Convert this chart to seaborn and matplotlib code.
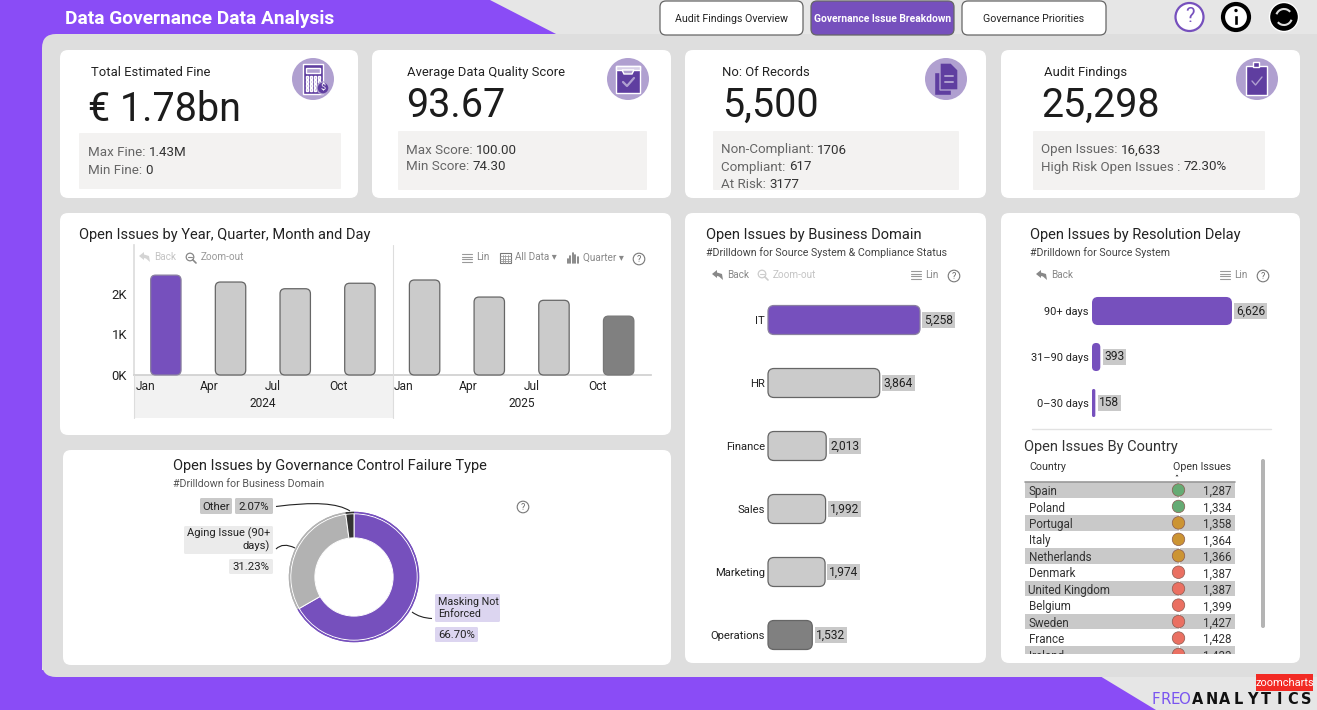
import numpy as np
import pandas as pd
import seaborn as sns
import matplotlib
matplotlib.use("Agg")
import matplotlib.pyplot as plt
from matplotlib.patches import FancyBboxPatch, Rectangle, Circle, Polygon, PathPatch, Arc
from matplotlib.path import Path
from matplotlib.transforms import ScaledTranslation

# ---- data -------------------------------------------------------------
periods = ["Q1 2024", "Q2 2024", "Q3 2024", "Q4 2024", "Q1 2025", "Q2 2025", "Q3 2025", "Q4 2025"]
quarter_labels = ["Jan", "Apr", "Jul", "Oct", "Jan", "Apr", "Jul", "Oct"]
period_issues = [2460, 2290, 2125, 2260, 2340, 1920, 1840, 1450]

domains = ["IT", "HR", "Finance", "Sales", "Marketing", "Operations"]
domain_issues = [5258, 3864, 2013, 1992, 1974, 1532]

delays = ["90+ days", "31–90 days", "0–30 days"]
delay_issues = [6626, 393, 158]

failure_types = ["Masking Not Enforced", "Aging Issue (90+ days)", "Other"]
failure_shares = [66.70, 31.23, 2.07]

countries = ["Spain", "Poland", "Portugal", "Italy", "Netherlands", "Denmark",
             "United Kingdom", "Belgium", "Sweden", "France", "Ireland"]
country_issues = [1287, 1334, 1358, 1364, 1366, 1387, 1387, 1399, 1427, 1428, 1433]
country_status = ["low", "low", "mid", "mid", "mid", "high", "high", "high", "high", "high", "high"]

# ---- styling ----------------------------------------------------------
W, H = 1317, 710
FONT = "Roboto"
BRIGHT = "#8a4cf6"
PURPLE = "#7650bd"
DEEP = "#5f3ea0"
LILAC = "#b0a0d0"
TAG = "#c9c9c9"

sns.set_theme(style="white")
plt.rcParams["font.family"] = [FONT, "DejaVu Sans"]
plt.rcParams["text.color"] = "#222222"

fig = plt.figure(figsize=(W / 100, H / 100), dpi=100, facecolor="#e6e6e6")


def px_axes(x0, y0, x1, y1, z=1):
    ax = fig.add_axes([x0 / W, 1 - y1 / H, (x1 - x0) / W, (y1 - y0) / H], zorder=z)
    ax.patch.set_alpha(0)
    return ax


def canvas(z):
    ax = px_axes(0, 0, W, H, z)
    ax.set_xlim(0, W)
    ax.set_ylim(H, 0)
    ax.axis("off")
    return ax


bg = canvas(0)
top = canvas(5)


def pt(px):
    return px * 0.72


def label(x, y, s, size=12, color="#222222", ha="left", va="center", weight="normal", ax=None, **kw):
    return (ax or top).text(x, y, s, fontsize=pt(size), color=color, ha=ha, va=va,
                            fontweight=weight, **kw)


def rbox(ax, x0, y0, x1, y1, r=8, fc="white", ec="none", lw=0.0, z=2):
    w, h = x1 - x0, y1 - y0
    r = min(r, w / 2, h / 2)
    ax.add_patch(FancyBboxPatch((x0, y0), w, h, boxstyle=f"round,pad=0,rounding_size={r}",
                                fc=fc, ec=ec, lw=lw, zorder=z, mutation_aspect=1))


def help_mark(x, y):
    top.add_patch(Circle((x, y), 5.8, fc="white", ec="#777777", lw=0.8))
    label(x, y + 0.3, "?", 9, "#666666", ha="center")


def list_icon(x, y, color="#999999"):
    for dy in (-4, -1.5, 1, 3.5):
        top.plot([x, x + 10], [y + dy, y + dy], color=color, lw=0.8)


def back_arrow(x, y, color="#999999"):
    top.add_patch(Polygon([(x, y - 1), (x + 5, y - 5), (x + 5, y - 2.5), (x + 10, y - 1),
                           (x + 11, y + 5), (x + 7, y + 1.5), (x + 5, y + 1), (x + 5, y + 3)],
                          fc=color, ec="none"))


def magnifier(x, y, color="#bbbbbb"):
    top.add_patch(Circle((x, y), 3.8, fc="none", ec=color, lw=0.9))
    top.plot([x + 2.8, x + 6], [y + 2.8, y + 6], color=color, lw=1.2)
    top.plot([x - 2, x + 2], [y, y], color=color, lw=0.8)


# ---- page background --------------------------------------------------
bg.add_patch(Polygon([(0, 0), (490, 0), (558, 35), (558, 60), (42, 60), (42, 710), (0, 710)], fc=BRIGHT, ec="none"))
bg.add_patch(Polygon([(0, 670), (1090, 670), (1156, 710), (0, 710)], fc=BRIGHT, ec="none"))
rbox(bg, 42, 34, 1340, 677, r=14, fc="#dedede", z=1)

cards = [(60, 50, 358, 198), (372, 50, 671, 198), (685, 50, 986, 198), (1001, 50, 1300, 198),
         (60, 213, 671, 435), (63, 450, 671, 665), (685, 213, 986, 663), (1001, 213, 1300, 663)]
for c in cards:
    rbox(bg, *c, r=8, fc="white", z=2)

label(65, 18.5, "Data Governance Data Analysis", 19.2, "white", weight="bold")

# navigation buttons
nav = [(660, 803, "Audit Findings Overview", "white", "#222222", 10.6),
       (811, 954, "Governance Issue Breakdown", PURPLE, "white", 10.2),
       (962, 1106, "Governance Priorities", "white", "#222222", 10.6)]
for x0, x1, s, fc, tc, fs in nav:
    rbox(top, x0, 1, x1, 35, r=6, fc=fc, ec="#666666", lw=0.9)
    label((x0 + x1) / 2, 18.5, s, fs, tc, ha="center", weight="bold" if fc != "white" else "normal")

top.add_patch(Circle((1189.5, 17), 14, fc="white", ec=PURPLE, lw=1.6))
label(1189.5, 17, "?", 20, PURPLE, ha="center")
top.add_patch(Circle((1236, 17), 13, fc="white", ec="black", lw=3))
top.add_patch(Rectangle((1234, 15), 4, 10, fc="black"))
top.add_patch(Circle((1236, 10.5), 2.4, fc="black"))
top.add_patch(Circle((1284, 17), 14.5, fc="black"))
top.add_patch(Arc((1284, 17), 16, 16, theta1=200, theta2=320, ec="#dddddd", lw=1.5))
top.add_patch(Arc((1284, 17), 16, 16, theta1=20, theta2=140, ec="#dddddd", lw=1.5))

# ---- KPI cards --------------------------------------------------------
kpis = [
    (91, 88, "Total Estimated Fine", "€ 1.78bn", 121, (79, 133, 341, 189), 88,
     [("Max Fine:", "1.43M"), ("Min Fine:", "0")], [152, 170], 313),
    (407, 406, "Average Data Quality Score", "93.67", 117, (398, 131, 647, 190), 406,
     [("Max Score:", "100.00"), ("Min Score:", "74.30")], [150, 166], 628),
    (722, 722, "No: Of Records", "5,500", 117, (713, 131, 959, 190), 721,
     [("Non-Compliant:", "1706"), ("Compliant:", "617"), ("At Risk:", "3177")], [150, 167, 185], 946),
    (1044, 1041, "Audit Findings", "25,298", 117, (1033, 131, 1265, 190), 1041,
     [("Open Issues:", "16,633"), ("High Risk Open Issues :", "72.30%")], [150, 167], 1257),
]
renderer = fig.canvas.get_renderer()
for tx, bx, title, big, base, panel, sx, rows, ys, cx in kpis:
    label(tx, 76, title, 13, va="baseline")
    label(bx, base, big, 39.5, "#1c1c1c", va="baseline")
    rbox(bg, *panel, r=1, fc="#f3f2f1", z=3)
    for (k, v), y in zip(rows, ys):
        txt = label(sx, y, k + " ", 13.4, "#666666")
        w = txt.get_window_extent(renderer).width
        label(sx + w, y, v, 13.4, "#333333")
    top.add_patch(Circle((cx, 79), 21, fc=LILAC, ec="none"))

# card glyphs
top.add_patch(Rectangle((303, 64), 20, 30, fc=DEEP))
top.add_patch(Rectangle((306, 68), 14, 5, fc=LILAC))
for r in range(4):
    for c in range(4):
        top.add_patch(Rectangle((305.5 + c * 4, 76 + r * 4), 2.6, 2.6, fc=LILAC))
top.add_patch(Circle((323, 88), 6, fc=DEEP, ec=LILAC, lw=1))
label(323, 88, "$", 9, "white", ha="center")

top.add_patch(Rectangle((616, 66), 24, 27, fc=DEEP))
top.add_patch(Rectangle((616, 66), 24, 4, fc="#d8d0e8"))
top.add_patch(Polygon([(622, 70), (634, 70), (632, 74), (624, 74)], fc=LILAC))
top.plot([623, 627, 634], [82, 86, 78], color=LILAC, lw=1.6)

top.add_patch(Rectangle((934, 72), 17, 23, fc=DEEP, ec=LILAC, lw=1))
top.add_patch(Polygon([(940, 63), (951, 63), (958, 70), (958, 90), (940, 90)], fc=DEEP, ec=LILAC, lw=1))
top.plot([945, 953], [76, 76], color=LILAC, lw=1.4)
top.plot([945, 953], [82, 82], color=LILAC, lw=1.4)

top.add_patch(Rectangle((1246, 66), 21, 29, fc=DEEP))
top.add_patch(Rectangle((1253, 62), 6, 5, fc=DEEP))
top.plot([1252, 1255.5, 1262], [81, 85, 77], color=LILAC, lw=1)

# ---- quarterly column chart --------------------------------------------
label(79, 235, "Open Issues by Year, Quarter, Month and Day", 14.6)
bg.add_patch(Rectangle((133.5, 375), 259, 43, fc="#f2f2f2", ec="none", zorder=3))

ax_time = px_axes(133.5, 245, 651, 375)
time_df = pd.DataFrame({"period": periods, "issues": period_issues})
time_colors = [PURPLE] + ["#cbcbcb"] * 6 + ["#808080"]
sns.barplot(data=time_df, x="period", y="issues", hue="period", palette=time_colors,
            legend=False, width=0.47, saturation=1, ax=ax_time)
ax_time.set_xlim(-0.5, 7.5)
ax_time.set_ylim(0, 130 / 40.6 * 1000)
ax_time.set(xlabel="", ylabel="")
ax_time.set_yticks([0, 1000, 2000], ["0K", "1K", "2K"])
ax_time.set_xticks(np.arange(8) - 0.5, quarter_labels)
ax_time.tick_params(axis="x", length=pt(19), width=0.8, color="#d0d0d0", pad=-pt(14), labelsize=pt(12), labelcolor="#222222")
ax_time.tick_params(axis="y", length=pt(5), width=0.8, color="#d0d0d0", pad=pt(1.5), labelsize=pt(13), labelcolor="#222222")
nudge = ScaledTranslation(2 / 100, 0, fig.dpi_scale_trans)
for t in ax_time.get_xticklabels():
    t.set_ha("left")
    t.set_transform(t.get_transform() + nudge)
for side in ("top", "right"):
    ax_time.spines[side].set_visible(False)
ax_time.spines["left"].set_color("#dddddd")
ax_time.spines["bottom"].set_color("#d0d0d0")

top.plot([134, 134], [375, 418], color="#dddddd", lw=0.8)
top.plot([392.5, 392.5], [245, 418], color="#dddddd", lw=0.8)
label(263, 403.5, "2024", 12, ha="center")
label(522, 403.5, "2025", 12, ha="center")


def round_bars(ax, edge_colors, radius):
    """Replace the bars seaborn drew with rounded ones at the same scaled position."""
    fig.canvas.draw()
    for patch, ec in zip(ax.patches, edge_colors):
        x, y, w, h = patch.get_x(), patch.get_y(), patch.get_width(), patch.get_height()
        (a, b), (c, d) = ax.transData.transform([(x, y), (x + w, y + h)])
        x0, x1 = sorted((a, c))
        y0, y1 = sorted((H - b, H - d))
        rbox(top, x0, y0, x1, y1, r=radius, fc=patch.get_facecolor(), ec=ec, lw=0.9, z=3)
        patch.set_visible(False)


round_bars(ax_time, ["#8a80a0"] + ["#666666"] * 6 + ["#777777"], 5)

back_arrow(139, 257, "#d4d4d4")
label(154, 257.5, "Back", 10, "#c4c4c4")
magnifier(190, 257, "#888888")
label(201, 257.5, "Zoom-out", 10, "#999999")
list_icon(462, 258)
label(476, 257.5, "Lin", 10, "#888888")
top.add_patch(Rectangle((499.5, 253), 11, 10, fc="white", ec="#777777", lw=0.8))
for gx in (502.5, 505, 507.5):
    top.plot([gx, gx], [255, 263], color="#999999", lw=0.6)
for gy in (256, 258.5, 261):
    top.plot([499.5, 510.5], [gy, gy], color="#999999", lw=0.6)
label(515, 257.5, "All Data ▾", 10, "#888888")
for i, h_ in enumerate((4, 7, 10, 8, 6)):
    top.plot([567.5 + i * 2.6] * 2, [263, 263 - h_], color="#777777", lw=1.2)
label(583, 257.5, "Quarter ▾", 10, "#888888")
help_mark(639, 259)

# ---- business domain bars ----------------------------------------------
label(706, 235, "Open Issues by Business Domain", 14.6)
label(706, 253, "#Drilldown for Source System & Compliance Status", 10.6, "#444444")

ax_dom = px_axes(768, 288.5, 968, 666.5)
dom_df = pd.DataFrame({"domain": domains, "issues": domain_issues})
dom_colors = [PURPLE] + ["#cbcbcb"] * 4 + ["#808080"]
sns.barplot(data=dom_df, y="domain", x="issues", hue="domain", palette=dom_colors, orient="h",
            legend=False, width=0.46, saturation=1, ax=ax_dom)
ax_dom.set_xlim(0, 200 / 152 * 5258)
ax_dom.set_ylim(5.5, -0.5)

ax_del = px_axes(1092, 288, 1262, 426)
del_df = pd.DataFrame({"delay": delays, "issues": delay_issues})
sns.barplot(data=del_df, y="delay", x="issues", color=PURPLE, orient="h", width=0.61,
            saturation=1, ax=ax_del)
ax_del.set_xlim(0, 170 / 140 * 6626)
ax_del.set_ylim(2.5, -0.5)

for ax, fs in ((ax_dom, 11.2), (ax_del, 11)):
    ax.set(xlabel="", ylabel="")
    ax.set_xticks([])
    ax.tick_params(axis="y", length=0, pad=pt(3), labelsize=pt(fs), labelcolor="#222222")
    sns.despine(ax=ax, left=True, bottom=True)
    for cont in ax.containers:
        ax.bar_label(cont, fmt="{:,.0f}", padding=pt(4), fontsize=pt(12), color="#222222",
                     bbox=dict(fc=TAG, ec="none", pad=1.2))

round_bars(ax_dom, ["#8a80a0"] + ["#666666"] * 5, 6)
round_bars(ax_del, ["none"] * 3, 6)

back_arrow(712, 275, "#888888")
label(727, 275, "Back", 10, "#888888")
magnifier(762, 274, "#cccccc")
label(773, 275, "Zoom-out", 10, "#c4c4c4")
list_icon(911, 275)
label(925, 275, "Lin", 10, "#888888")
help_mark(954, 276)

# ---- resolution delay header -------------------------------------------
label(1030, 235, "Open Issues by Resolution Delay", 14.6)
label(1030, 253, "#Drilldown for Source System", 10.6, "#444444")
back_arrow(1036, 275, "#888888")
label(1051, 275, "Back", 10, "#888888")
list_icon(1220, 275)
label(1234, 275, "Lin", 10, "#888888")
help_mark(1263, 276)
top.plot([1032, 1271], [429, 429], color="#e2e2e2", lw=1)

# ---- country table -----------------------------------------------------
label(1024, 447, "Open Issues By Country", 14.6, "#333333")
label(1029, 467, "Country", 10.6, "#333333")
label(1173, 467, "Open Issues", 10.6, "#333333")
top.add_patch(Polygon([(1174, 477), (1180, 477), (1177, 473.5)], fc="#222222"))
top.plot([1025, 1235], [481.5, 481.5], color="#9a9a9a", lw=1.2)

ax_tab = px_axes(1025, 482, 1235, 653.5)
row_h = 16.45
rows_idx = np.arange(len(countries))
for i in rows_idx[::2]:
    ax_tab.axhspan(i - 0.49, i + 0.47, color="#c9c9c9", lw=0, zorder=0)
ax_tab.plot([0, 0], [-0.5, 11], color="white", lw=0.8, zorder=1)
tab_df = pd.DataFrame({"row": rows_idx, "col": 0, "status": country_status})
sns.scatterplot(data=tab_df, x="col", y="row", hue="status", legend=False, s=(pt(12.5)) ** 2,
                palette={"low": "#66ab74", "mid": "#cc9433", "high": "#ea7062"},
                edgecolor="#8a5a50", linewidth=0.5, zorder=3, ax=ax_tab)
for i, (name, val) in enumerate(zip(countries, country_issues)):
    ax_tab.text(-150, i + 0.1, name, fontsize=pt(11.6), color="#333333", va="center", clip_on=True)
    ax_tab.text(53, i + 0.1, f"{val:,}", fontsize=pt(11.6), color="#333333", va="center", ha="right", clip_on=True)
ax_tab.set_xlim(-153.5, 56.5)
ax_tab.set_ylim((653.5 - 490) / row_h, (482 - 490) / row_h)
ax_tab.axis("off")
rbox(top, 1261, 459, 1265, 628, r=2, fc="#b4b4b4")

# ---- control failure donut ---------------------------------------------
label(173, 466, "Open Issues by Governance Control Failure Type", 14.6)
label(173, 484, "#Drilldown for Business Domain", 10.6, "#555555")

ax_pie = px_axes(354 - 66.5, 577 - 66.5, 354 + 66.5, 577 + 66.5)
pie_colors = [PURPLE, "#b2b2b2", "#333333"]
ax_pie.pie(failure_shares, colors=pie_colors, startangle=90, counterclock=False, radius=1,
           wedgeprops=dict(width=0.4, edgecolor="none"))
ax_pie.pie(failure_shares, colors=pie_colors, startangle=90, counterclock=False, radius=0.97,
           wedgeprops=dict(width=0.37, edgecolor="white", linewidth=0.7))
ax_pie.pie(failure_shares, colors=pie_colors, startangle=90, counterclock=False, radius=1,
           wedgeprops=dict(width=0.02, edgecolor="none"))
ax_pie.set_xlim(-1.02, 1.02)
ax_pie.set_ylim(-1.02, 1.02)

rbox(top, 200, 498, 232, 514, r=1.5, fc=TAG)
label(216, 506.5, "Other", 11.4, ha="center")
rbox(top, 235, 498, 273, 514, r=1.5, fc=TAG)
label(254, 506.5, f"{failure_shares[2]:.2f}%", 11.4, ha="center")
rbox(top, 184, 526, 273, 554, r=1.5, fc="#ebebeb")
label(270, 540, "Aging Issue (90+\ndays)", 11.1, ha="right", linespacing=1.2)
rbox(top, 229, 559, 273, 574, r=1.5, fc="#ebebeb")
label(251, 566.5, f"{failure_shares[1]:.2f}%", 11.4, ha="center")
rbox(top, 435, 594, 500, 622, r=1.5, fc="#dcd5f0")
label(438, 608, "Masking Not\nEnforced", 10.8, linespacing=1.2)
rbox(top, 435, 627, 478, 642, r=1.5, fc="#dcd5f0")
label(456.5, 634.5, f"{failure_shares[0]:.2f}%", 11.4, ha="center")
help_mark(523, 507)

leaders = [[(276, 506.5), (332, 499), (350, 511)],
           [(276, 549), (283, 542), (295, 548)],
           [(412, 612), (420, 618), (432, 618.5)]]
for pts in leaders:
    top.add_patch(PathPatch(Path(pts, [Path.MOVETO, Path.CURVE3, Path.CURVE3]),
                            fc="none", ec="#222222", lw=0.8))

# ---- footer marks ------------------------------------------------------
top.add_patch(Rectangle((1256, 674), 57, 17, fc="#f22a24", ec="none"))
label(1284.5, 682.5, "zoomcharts", 11, "white", ha="center")
for i, ch in enumerate("FREO"):
    label(1156 + i * 9.5, 699.5, ch, 15, "#7a55f0", ha="center", family="DejaVu Sans")
for i, ch in enumerate("ANALYTICS"):
    label(1198 + i * 13.5, 699.5, ch, 14.5, "#111111", ha="center", weight="bold", family="DejaVu Sans")

fig.savefig("out.png", dpi=100, facecolor=fig.get_facecolor())
